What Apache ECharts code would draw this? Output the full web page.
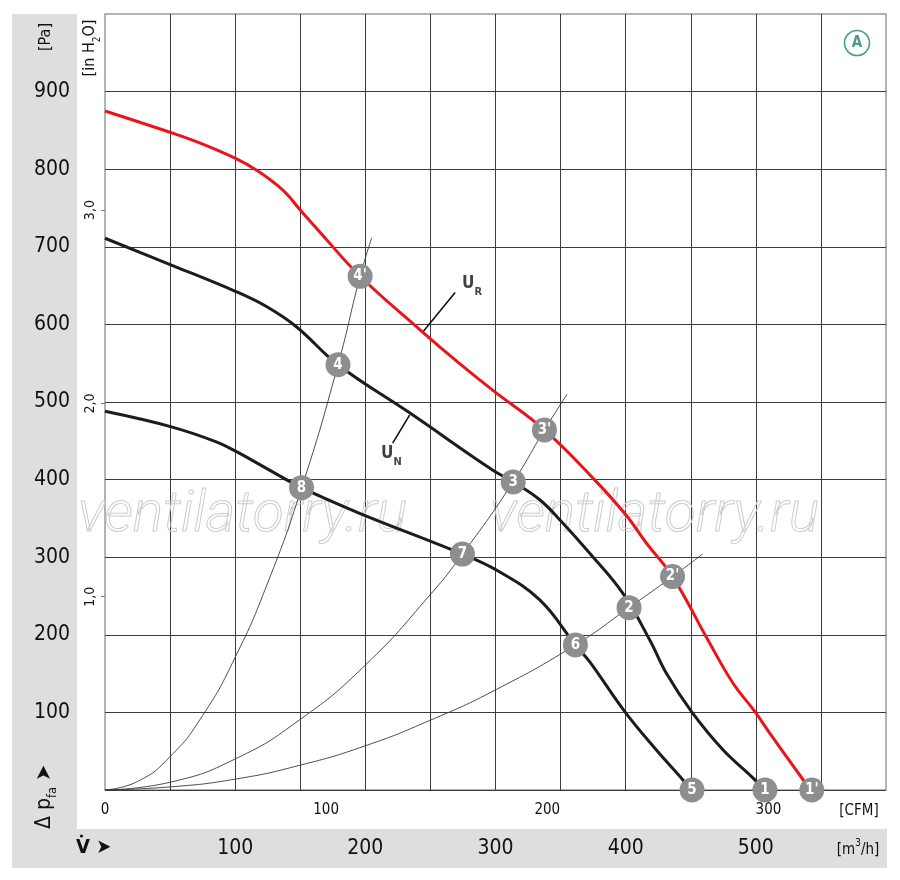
<!DOCTYPE html>
<html><head><meta charset="utf-8">
<script src="https://cdn.jsdelivr.net/npm/echarts@6/dist/echarts.min.js"></script>
<style>html,body{margin:0;padding:0;background:#fff}#c{width:900px;height:880px}</style>
</head><body><div id="c"></div>
<script>
const FONT = '"Liberation Sans Narrow","DejaVu Sans Condensed","Roboto Condensed","Liberation Sans",Arial,sans-serif';

// ---- tick labels ----
const flowTicksM3h = [100, 200, 300, 400, 500];
const flowTicksCFM = [0, 100, 200, 300];
const pressTicksPa = [100, 200, 300, 400, 500, 600, 700, 800, 900];
const pressTicksInH2O = [1, 2, 3];

// ---- fan curves [m3/h, Pa] ----
const curveUR = [[0,875],[51,847],[72.7,834],[100.3,814],[116.2,799],[136.6,773],[150.2,747],[164.8,719.5],[196,662],[242,593],[272,550],[298,515],[337.6,464],[376,400],[400.4,354],[416,318],[436,275],[463.3,193],[482.5,137.5],[499.3,101],[510.8,73],[542,0]];
const curveUN = [[0,711],[51,676.5],[101,642],[124,623],[147,597],[179,548],[234,486],[298,412],[313.6,397],[334,374],[350.6,346],[372.4,305],[398,253],[418.6,193],[431.4,150],[450.6,101],[474.9,51.5],[499.3,13],[505,0]];
const curveLow = [[0,488],[51,468],[85,449],[101,436],[124,414.5],[151,389.6],[195.6,356.6],[274.6,304],[300.7,283.5],[334,245],[361.4,187],[372.3,165.4],[399.3,101],[423.6,51.5],[444,13],[450,0]];

// ---- system curves [m3/h, Pa] ----
const systemA = [[0,0],[25,11],[50,43],[75,96],[100,171],[125,267],[151,389],[179,548],[196,662],[205,712]];
const systemB = [[0,0],[50,10],[100,40],[150,91],[200,161],[250,252],[274.6,304],[313.6,397],[337.6,464],[355,510]];
const systemC = [[0,0],[50,4],[100,14],[150,32],[200,57],[250,90],[300,129],[361.4,187],[402.6,235],[436,275],[459,304]];

// ---- operating points ----
const markerNames = ['1','2','3','4','5','6','7','8',"1'","2'","3'","4'"];
const markerFlow  = [507, 402.6, 313.6, 179, 451, 361.4, 274.6, 151, 543, 436, 337.6, 196];
const markerPress = [0, 235, 397, 548, 0, 187, 304, 389.6, 0, 275, 464, 662];

// ---- curve name labels ----
const curveLabelSubs  = ['R', 'N'];
const curveLabelFlow  = [282, 220];
const curveLabelPress = [652, 433];
const leaderUR = [[244,590],[269,641]];
const leaderUN = [[234,483],[221,447]];

const M3H_PER_CFM = 1.69901;
const PA_PER_INH2O = 249.089;

const chart = echarts.init(document.getElementById('c'), null, {renderer: 'canvas'});

const lineBase = (data, color, width, z, smooth) => ({
  type: 'line', data, showSymbol: false, symbol: 'none', smooth: smooth,
  lineStyle: {color, width}, z, silent: true, clip: false, xAxisIndex: 0, yAxisIndex: 0
});

const WM_FONT = 'italic 300 57px Roboto, "Liberation Sans", sans-serif';

const option = {
  animation: false,
  backgroundColor: '#ffffff',
  grid: {left: 105, top: 14, right: 14, bottom: 90, show: true, borderColor: '#9a9a9a', borderWidth: 1.5},
  xAxis: [
    {type: 'value', min: 0, max: 600, interval: 50, position: 'bottom',
     axisLine: {show: false}, axisTick: {show: false},
     splitLine: {show: true, showMinLine: false, showMaxLine: false, lineStyle: {color: '#3c3c3c', width: 1}},
     axisLabel: {customValues: flowTicksM3h, margin: 48, fontSize: 21, color: '#111', fontFamily: FONT}},
    {type: 'value', min: 0, max: 600 / M3H_PER_CFM, interval: 100, position: 'bottom',
     axisLine: {show: false}, axisTick: {show: false}, splitLine: {show: false},
     axisLabel: {customValues: flowTicksCFM, margin: 13, fontSize: 15, color: '#111', fontFamily: FONT}}
  ],
  yAxis: [
    {type: 'value', min: 0, max: 1000, interval: 100, position: 'left',
     axisLine: {show: false}, axisTick: {show: false},
     splitLine: {show: true, showMinLine: true, showMaxLine: false, lineStyle: {color: '#3c3c3c', width: 1}},
     axisLabel: {customValues: pressTicksPa, margin: 35, fontSize: 21, color: '#111', fontFamily: FONT}},
    {type: 'value', min: 0, max: 1000 / PA_PER_INH2O, interval: 1, position: 'left', offset: 0,
     axisLine: {show: false},
     axisTick: {show: true, customValues: pressTicksInH2O, length: 4, lineStyle: {color: '#777'}},
     splitLine: {show: false},
     axisLabel: {customValues: pressTicksInH2O, rotate: 90, margin: 8, fontSize: 14, color: '#111', fontFamily: FONT,
       formatter: v => v.toFixed(1).replace('.', ',')}}
  ],
  graphic: [
    {type: 'rect', z: -5, shape: {x: 12, y: 14, width: 65, height: 854}, style: {fill: '#dddee0'}},
    {type: 'rect', z: -5, shape: {x: 12, y: 829, width: 875, height: 39}, style: {fill: '#dddee0'}},
    {type: 'text', z: 1, x: 78, y: 517, style: {text: 'ventilatorry.ru', font: WM_FONT, fill: 'rgba(255,255,255,0)', stroke: '#cdcdcd', lineWidth: 1, verticalAlign: 'middle'}},
    {type: 'text', z: 1, x: 490, y: 517, style: {text: 'ventilatorry.ru', font: WM_FONT, fill: 'rgba(255,255,255,0)', stroke: '#cdcdcd', lineWidth: 1, verticalAlign: 'middle'}},
    {type: 'text', z: 10, x: 46, y: 37, rotation: Math.PI / 2, style: {text: '[Pa]', font: '16px ' + FONT, fill: '#111', align: 'center', verticalAlign: 'middle'}},
    {type: 'text', z: 10, x: 90, y: 48, rotation: Math.PI / 2, style: {text: '[in H{s|2}O]', font: '16px ' + FONT, fill: '#111', align: 'center', verticalAlign: 'middle',
      rich: {s: {fontSize: 10, fontFamily: FONT, fill: '#111', verticalAlign: 'bottom', padding: [0, 0, -4, 0]}}}},
    {type: 'text', z: 10, x: 45, y: 797, rotation: Math.PI / 2, style: {text: 'Δ p{s|fa} ➤', font: '21px ' + FONT, fill: '#111', align: 'center', verticalAlign: 'middle',
      rich: {s: {fontSize: 13, fontFamily: FONT, fill: '#111', verticalAlign: 'bottom', padding: [0, 0, -4, 0]}}}},
    {type: 'text', z: 10, x: 76, y: 848, style: {text: 'V ➤', font: 'bold 20px ' + FONT, fill: '#111', align: 'left', verticalAlign: 'middle'}},
    {type: 'circle', z: 10, shape: {cx: 81.5, cy: 836, r: 1.6}, style: {fill: '#111'}},
    {type: 'text', z: 10, x: 859, y: 811, style: {text: '[CFM]', font: '15px ' + FONT, fill: '#111', align: 'center', verticalAlign: 'middle'}},
    {type: 'text', z: 10, x: 858, y: 850, style: {text: '[m{s|3}/h]', font: '15px ' + FONT, fill: '#111', align: 'center', verticalAlign: 'middle',
      rich: {s: {fontSize: 10, fontFamily: FONT, fill: '#111', verticalAlign: 'top', padding: [-4, 0, 0, 0]}}}},
    {type: 'circle', z: 10, shape: {cx: 857, cy: 43, r: 12.5}, style: {fill: 'none', stroke: '#4f9a8f', lineWidth: 1.6}},
    {type: 'text', z: 10, x: 857, y: 43, style: {text: 'A', font: 'bold 15px ' + FONT, fill: '#4f9a8f', align: 'center', verticalAlign: 'middle'}}
  ],
  series: [
    lineBase(systemA, '#3a3a3a', 0.9, 3, 0.5),
    lineBase(systemB, '#3a3a3a', 0.9, 3, 0.5),
    lineBase(systemC, '#3a3a3a', 0.9, 3, 0.5),
    lineBase(curveLow, '#1c1c1c', 3, 4, 0.4),
    lineBase(curveUN, '#1c1c1c', 3, 4, 0.4),
    lineBase(curveUR, '#e8161c', 3, 5, 0.4),
    {type: 'line', data: leaderUR, symbol: 'none', lineStyle: {color: '#111', width: 1.6}, z: 4},
    {type: 'line', data: leaderUN, symbol: 'none', lineStyle: {color: '#111', width: 1.6}, z: 4},
    {type: 'scatter', z: 6, clip: false, symbol: 'circle', symbolSize: 25,
     itemStyle: {color: '#8d8e90', opacity: 1},
     label: {show: true, position: 'inside', formatter: p => p.name, color: '#fff', fontSize: 15, fontWeight: 'bold', fontFamily: FONT},
     data: markerNames.map((n, i) => ({name: n, value: [markerFlow[i], markerPress[i]]}))},
    {type: 'scatter', z: 6, clip: false, symbolSize: 0,
     label: {show: true, position: 'inside', formatter: p => '{u|U}{s|' + p.name + '}',
       rich: {u: {fontSize: 17, fontWeight: 'bold', fontFamily: FONT, color: '#111'},
              s: {fontSize: 11, fontWeight: 'bold', fontFamily: FONT, color: '#111', verticalAlign: 'bottom', padding: [0, 0, -5, 0]}}},
     data: curveLabelSubs.map((n, i) => ({name: n, value: [curveLabelFlow[i], curveLabelPress[i]]}))}
  ]
};
chart.setOption(option);
</script>
</body></html>
